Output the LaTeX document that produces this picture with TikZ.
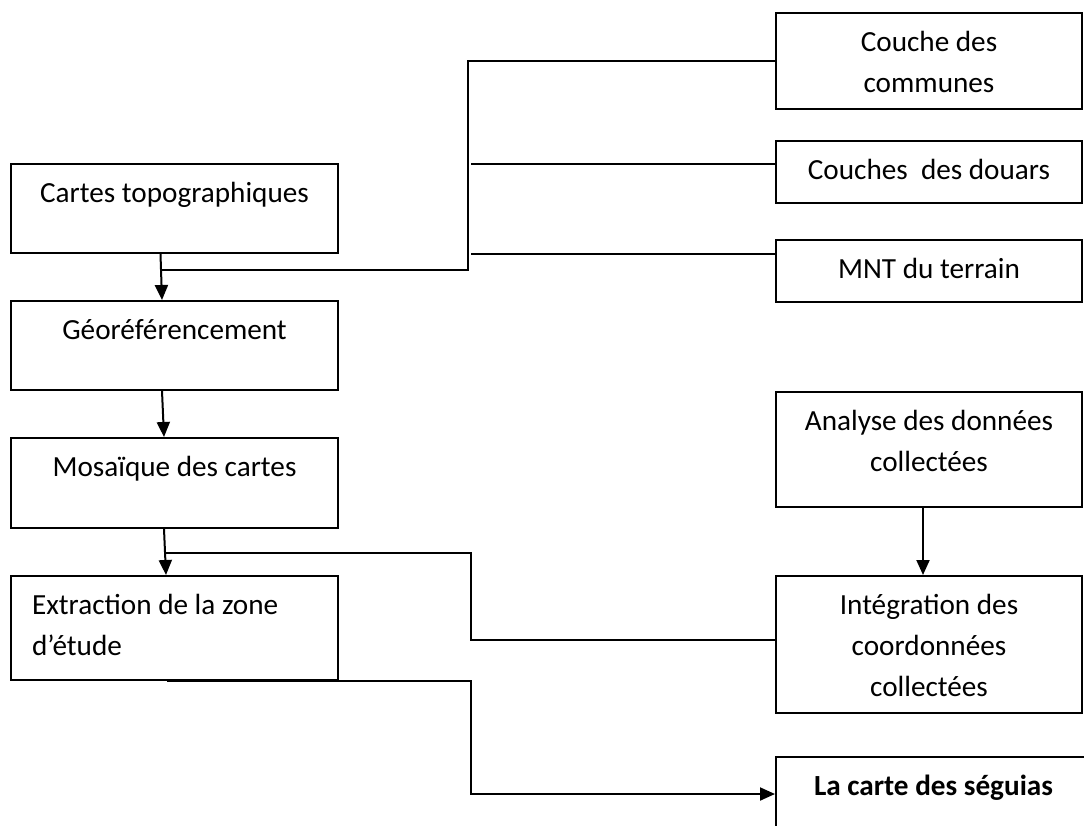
\documentclass[tikz,border=0pt]{standalone}
\usepackage{fontspec}
\setmainfont{Carlito}
\usetikzlibrary{arrows.meta,calc}

\begin{document}
\begin{tikzpicture}[x=1pt, y=-1pt,
    font=\fontsize{29.2pt}{41pt}\selectfont,
    etape/.style={rectangle, draw, line width=2pt, anchor=north west, inner xsep=10pt, inner ysep=17.5pt, text height=21pt, align=flush center},
    gauche/.style={etape, text width=307pt},
    droite/.style={etape, text width=286pt},
    fleche/.style={line width=2pt, -{Triangle[length=15pt, width=13pt]}},
    trait/.style={line width=2pt}]
    \useasboundingbox (0,0) rectangle (1084,825);
    \clip (0,0) rectangle (1084,825);
    \node[gauche, text depth=33pt] (topo) at (10,163) {Cartes topographiques};
    \node[gauche, text depth=33pt] (geo) at (10,300) {Géoréférencement};
    \node[gauche, text depth=34pt] (mosa) at (10,437) {Mosaïque des cartes};
    \node[gauche, text depth=48pt, align=flush left, inner xsep=21pt, text width=285pt] (extr) at (10,575) {Extraction de la zone\\d’étude};
    \node[droite, text depth=40pt] (communes) at (775,12) {Couche des\\communes};
    \node[droite, text depth=6pt] (douars) at (775,140) {Couches\ \ des douars};
    \node[droite, text depth=6pt] (mnt) at (775,239) {MNT du terrain};
    \node[droite, text depth=59pt] (analyse) at (775,391) {Analyse des données\\collectées};
    \node[droite, text depth=81pt] (integ) at (775,575) {Intégration des\\coordonnées\\collectées};
    \node[etape, text width=295pt, text depth=18pt] (seguias) at (775,756) {\textbf{La carte des séguias}};

    \draw[fleche] ([xshift=-14pt]topo.south) -- ([xshift=-12.5pt]geo.north);
    \draw[fleche] ([xshift=-12.5pt]geo.south) -- ([xshift=-10.5pt]mosa.north);
    \draw[fleche] ([xshift=-10.5pt]mosa.south) -- ([xshift=-8.5pt]extr.north);
    \draw[fleche] ([xshift=-6pt]analyse.south) -- ([xshift=-6pt]integ.north);

    \coordinate (jonc1) at ([xshift=-13.5pt, yshift=-16pt]topo.south);
    \coordinate (jonc2) at ([xshift=-9.5pt, yshift=-24pt]mosa.south);
    \draw[trait] (jonc1) -| ([xshift=-307pt]communes.west) -- (communes.west);
    \draw[trait] ([yshift=8pt]douars.west) -- ++(-304,0);
    \draw[trait] ([yshift=17pt]mnt.west) -- ++(-304,0);
    \draw[trait] (jonc2) -| ([xshift=-304pt, yshift=4.5pt]integ.west) -- ([yshift=4.5pt]integ.west);
    \draw[fleche] ([xshift=-7.5pt]extr.south) -| ([xshift=-304pt]seguias.west) -- (seguias.west);
\end{tikzpicture}
\end{document}
